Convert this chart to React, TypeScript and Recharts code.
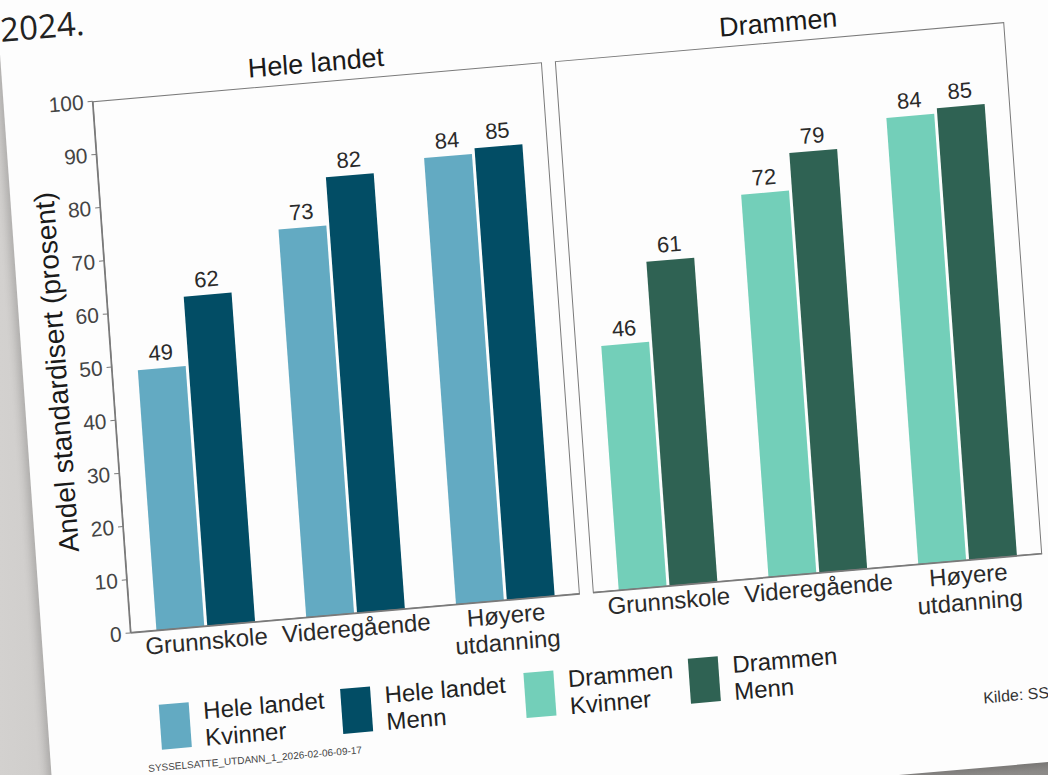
import React from 'react';
import { BarChart, Bar, XAxis, YAxis, LabelList } from 'recharts';

const categories = ['Grunnskole', 'Videregående', 'Høyere\nutdanning'];
const heleKvinner = [49, 73, 84];
const heleMenn = [62, 82, 85];
const drammenKvinner = [46, 72, 84];
const drammenMenn = [61, 79, 85];
const yTicks = [0, 10, 20, 30, 40, 50, 60, 70, 80, 90, 100];

const COLORS = {
  heleKvinner: '#63aac2',
  heleMenn: '#024d65',
  drammenKvinner: '#73cfb9',
  drammenMenn: '#2f6253',
};

const legendItems = [
  { l1: 'Hele landet', l2: 'Kvinner', color: COLORS.heleKvinner, x: 152 },
  { l1: 'Hele landet', l2: 'Menn', color: COLORS.heleMenn, x: 334 },
  { l1: 'Drammen', l2: 'Kvinner', color: COLORS.drammenKvinner, x: 518 },
  { l1: 'Drammen', l2: 'Menn', color: COLORS.drammenMenn, x: 683 },
];

const FONT = '"Liberation Sans", Arial, Helvetica, sans-serif';

const heleData = categories.map((cat, i) => ({ cat, kvinner: heleKvinner[i], menn: heleMenn[i] }));
const drammenData = categories.map((cat, i) => ({ cat, kvinner: drammenKvinner[i], menn: drammenMenn[i] }));

const CatTick = (props: any) => {
  const { x, y, payload } = props;
  const lines = String(payload.value).split('\n');
  return (
    <text x={x} y={y} textAnchor="middle" fontSize={24} fill="#2a2a2a" fontFamily={FONT}>
      {lines.map((l, i) => (
        <tspan key={i} x={x} dy={i === 0 ? 23 : 27}>{l}</tspan>
      ))}
    </text>
  );
};

const YLabel = () => (
  <text x={58} y={332} transform="rotate(-90, 58, 332)" textAnchor="middle" dominantBaseline="central"
    fontSize={28} fill="#1a1a1a" fontFamily={FONT}>
    Andel standardisert (prosent)
  </text>
);

const Panel = ({ data, c1, c2, showY, left, width, title }: any) => (
  <div style={{ position: 'absolute', left, top: 0 }}>
    <BarChart width={width} height={680} data={data}
      margin={{ top: 65, right: 5, bottom: 22, left: 0 }}
      barGap={3} barCategoryGap={26}>
      <XAxis dataKey="cat" axisLine={{ stroke: '#7a7a7a', strokeWidth: 1.5 }} tickLine={false}
        tickSize={0} tickMargin={0} height={60} interval={0} tick={<CatTick />} />
      <YAxis hide={!showY} width={113} domain={[0, 100]} ticks={yTicks} interval={0}
        axisLine={{ stroke: '#7a7a7a', strokeWidth: 1.5 }} tickLine={{ stroke: '#7a7a7a' }}
        tickSize={5} tickMargin={4} tick={{ fontSize: 21, fill: '#444', fontFamily: FONT }}
        label={showY ? <YLabel /> : undefined} />
      <Bar dataKey="kvinner" fill={c1} isAnimationActive={false}>
        <LabelList dataKey="kvinner" position="top" offset={8} fontSize={22} fill="#2a2a2a" fontFamily={FONT} />
      </Bar>
      <Bar dataKey="menn" fill={c2} isAnimationActive={false}>
        <LabelList dataKey="menn" position="top" offset={8} fontSize={22} fill="#2a2a2a" fontFamily={FONT} />
      </Bar>
    </BarChart>
    <div style={{
      position: 'absolute', left: showY ? 113 : 0, top: 65, width: width - 5 - (showY ? 113 : 0),
      height: 533, border: '1.5px solid #7a7a7a', boxSizing: 'border-box', pointerEvents: 'none',
    }} />
    <div style={{
      position: 'absolute', left: showY ? 113 : 0, width: width - 5 - (showY ? 113 : 0), top: 30,
      textAlign: 'center', fontSize: 27, lineHeight: '32px', color: '#1a1a1a', fontFamily: FONT,
    }}>{title}</div>
  </div>
);

export default function App() {
  return (
    <div style={{
      position: 'fixed', left: 0, top: 0, width: 1048, height: 775, overflow: 'hidden',
      background: 'linear-gradient(90deg, #d3d1cf 0%, #c6c4c2 15%, #a3a19f 70%, #8e8c8a 100%)',
    }}>
      <div style={{
        position: 'absolute', left: 0, top: 0, width: 1048, height: 775,
        transform: 'matrix(0.9963, -0.0865, 0.0713, 0.9975, 0, 0)', transformOrigin: '524px 387px',
      }}>
        <div style={{
          position: 'absolute', left: 25, top: -300, width: 1250, height: 1106, background: '#fdfdfd',
          boxShadow: '-4px 4px 8px rgba(0,0,0,0.18)',
        }} />
        <div style={{ position: 'absolute', left: 27, top: -34, fontSize: 33, color: '#222', fontFamily: '"Open Sans", sans-serif', lineHeight: '40px' }}>
          2024.
        </div>
        <Panel data={heleData} c1={COLORS.heleKvinner} c2={COLORS.heleMenn} showY left={1} width={569} title="Hele landet" />
        <Panel data={drammenData} c1={COLORS.drammenKvinner} c2={COLORS.drammenMenn} showY={false} left={578} width={456} title="Drammen" />
        {legendItems.map((it, i) => (
          <div key={i} style={{ position: 'absolute', left: it.x - 15, top: 672, height: 45, display: 'flex', alignItems: 'center' }}>
            <div style={{ width: 30, height: 45, background: it.color }} />
            <div style={{ marginLeft: 14, fontSize: 24, lineHeight: '27px', color: '#222', fontFamily: FONT, whiteSpace: 'nowrap' }}>
              {it.l1}<br />{it.l2}
            </div>
          </div>
        ))}
        <div style={{ position: 'absolute', left: 122, top: 729, fontSize: 10, color: '#444', fontFamily: FONT, whiteSpace: 'nowrap' }}>
          SYSSELSATTE_UTDANN_1_2026-02-06-09-17
        </div>
        <div style={{ position: 'absolute', left: 960, top: 728, fontSize: 16, color: '#333', fontFamily: FONT, whiteSpace: 'nowrap' }}>
          Kilde: SSB
        </div>
      </div>
    </div>
  );
}
